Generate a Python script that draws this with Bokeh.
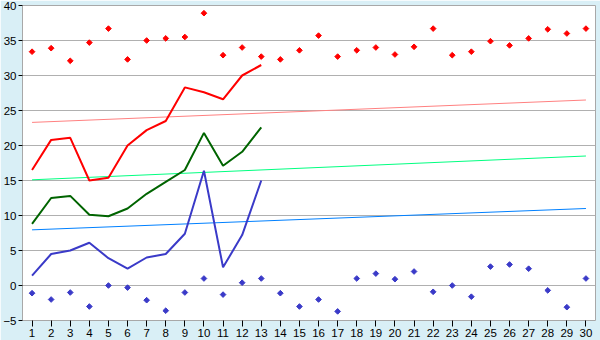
from bokeh.plotting import figure
from bokeh.models import FixedTicker, Range1d
from bokeh.embed import file_html
from bokeh.resources import INLINE
import numpy as np

days = list(range(1, 31))
line_days = list(range(1, 14))

red_line = [16.5, 20.8, 21.1, 15.0, 15.4, 20.0, 22.2, 23.5, 28.3, 27.6, 26.6, 30.0, 31.5]
green_line = [8.8, 12.5, 12.8, 10.1, 9.9, 11.0, 13.1, 14.8, 16.5, 21.8, 17.1, 19.1, 22.6]
blue_line = [1.4, 4.5, 5.0, 6.1, 3.9, 2.4, 4.0, 4.5, 7.4, 16.4, 2.6, 7.2, 15.0]

red_points = [33.4, 33.9, 32.1, 34.7, 36.7, 32.3, 35.0, 35.3, 35.5, 38.9,
              32.9, 34.0, 32.7, 32.3, 33.6, 35.7, 32.7, 33.6, 34.0, 33.0,
              34.1, 36.7, 32.9, 33.4, 34.9, 34.3, 35.3, 36.6, 36.0, 36.7]
blue_points = [-1.1, -2.0, -1.0, -3.0, 0.0, -0.3, -2.1, -3.6, -1.0, 1.0,
               -1.3, 0.4, 1.0, -1.1, -3.0, -2.0, -3.7, 1.0, 1.7, 0.9,
               2.0, -0.9, 0.0, -1.6, 2.7, 3.0, 2.4, -0.7, -3.1, 1.0]

trend_x = [1, 30]
trend_red = [23.3, 26.5]
trend_green = [15.1, 18.5]
trend_blue = [7.95, 11.0]

y_ticks = [-5, 0, 5, 10, 15, 20, 25, 30, 35, 40]

bg = "#d9eff6"
p = figure(width=600, height=340, output_backend="svg", toolbar_location=None,
           x_range=Range1d(0.5, 30.5), y_range=Range1d(-5, 40),
           min_border_left=20, min_border_right=5, min_border_top=5, min_border_bottom=20)
p.background_fill_color = "white"
p.border_fill_color = bg
p.outline_line_color = "#a8a8a8"
p.outline_line_width = 1

p.xgrid.grid_line_color = None
p.ygrid.grid_line_color = "#b0b0b0"
p.ygrid.grid_line_width = 1
p.yaxis.ticker = FixedTicker(ticks=y_ticks)
p.xaxis.ticker = FixedTicker(ticks=days)
p.yaxis.major_label_overrides = {-5: "\u22125"}
for ax in (p.xaxis[0], p.yaxis[0]):
    ax.axis_line_color = None
    ax.minor_tick_line_color = None
    ax.major_tick_in = 0
    ax.major_tick_line_color = "black"
    ax.major_label_text_font = "Liberation Sans"
    ax.major_label_text_font_size = "11.5px"
    ax.major_label_text_color = "black"
p.yaxis.major_tick_out = 4
p.yaxis.major_label_standoff = 2
p.xaxis.major_tick_out = 6
p.xaxis.major_label_standoff = 2

# trend lines
p.line(trend_x, trend_red, line_color="#ff8080", line_width=1)
p.line(trend_x, trend_green, line_color="#00ff80", line_width=1)
p.line(trend_x, trend_blue, line_color="#0080ff", line_width=1)

# main lines
p.line(line_days, red_line, line_color="#ff0000", line_width=2)
p.line(line_days, green_line, line_color="#006400", line_width=2)
p.line(line_days, blue_line, line_color="#3a3ac8", line_width=2)

# points
p.scatter(days, red_points, marker="square", angle=np.pi / 4, size=4,
          fill_color="#ff0000", line_color="#ff0000", line_width=1)
p.scatter(days, blue_points, marker="square", angle=np.pi / 4, size=4,
          fill_color="#3a3ac8", line_color="#3a3ac8", line_width=1)

open("out.html", "w").write(file_html(p, INLINE))
